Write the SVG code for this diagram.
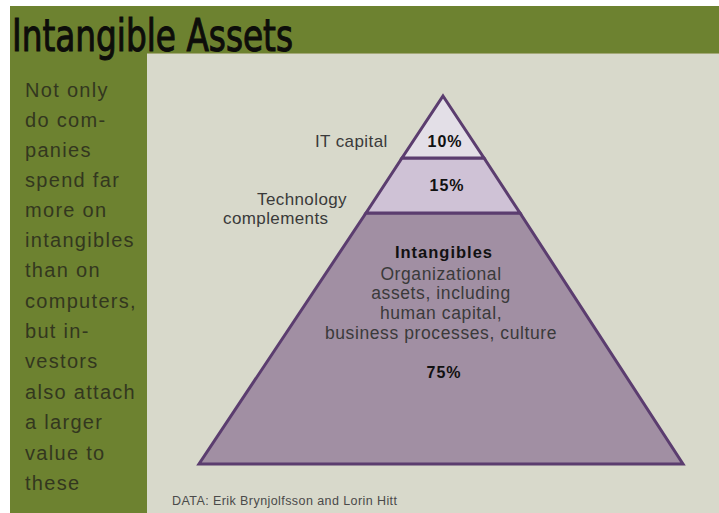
<svg xmlns="http://www.w3.org/2000/svg" width="719" height="513" viewBox="0 0 719 513">
  <style>
    .side { font-family: "Liberation Sans", Arial, sans-serif; font-size: 20px; fill: #33371f; letter-spacing: 1.3px; }
    .lab { font-family: "Liberation Sans", Arial, sans-serif; font-size: 17px; fill: #3a3a3a; letter-spacing: 0.4px; }
    .pct { font-family: "Liberation Sans", Arial, sans-serif; font-size: 16px; font-weight: bold; fill: #111; letter-spacing: 1px; text-anchor: middle; }
    .body { font-family: "Liberation Sans", Arial, sans-serif; font-size: 17.5px; fill: #3a3a3a; letter-spacing: 0.6px; text-anchor: middle; }
    .tier { stroke: #5b3d6f; stroke-width: 3; stroke-linejoin: miter; }
  </style>
  <rect x="0" y="0" width="719" height="513" fill="#ffffff"/>
  <rect x="10" y="6" width="709" height="507" fill="#6d8230"/>
  <rect x="147" y="53" width="572" height="460" fill="#a3a877"/>
  <rect x="147" y="54" width="572" height="459" fill="#d8d9cb"/>

  <g id="title">
    <text x="12" y="51" font-family="'DejaVu Sans Condensed', 'DejaVu Sans', sans-serif" font-size="44" fill="#0d0d0a" stroke="#0d0d0a" stroke-width="1" textLength="281" lengthAdjust="spacingAndGlyphs">Intangible Assets</text>
  </g>

  <g id="sidebar">
    <text class="side" x="25" y="97">Not only</text>
    <text class="side" x="25" y="127">do com-</text>
    <text class="side" x="25" y="157">panies</text>
    <text class="side" x="25" y="187">spend far</text>
    <text class="side" x="25" y="217">more on</text>
    <text class="side" x="25" y="247">intangibles</text>
    <text class="side" x="25" y="277">than on</text>
    <text class="side" x="25" y="308">computers,</text>
    <text class="side" x="25" y="338">but in-</text>
    <text class="side" x="25" y="368">vestors</text>
    <text class="side" x="25" y="399">also attach</text>
    <text class="side" x="25" y="429">a larger</text>
    <text class="side" x="25" y="460">value to</text>
    <text class="side" x="25" y="490">these</text>
  </g>

  <g id="tier-intangibles">
    <polygon class="tier" points="366,213 520,213 683,464 199,464" fill="#a18fa3"/>
    <text class="pct" x="444" y="258" style="font-size:16.5px">Intangibles</text>
    <text class="body" x="441" y="280">Organizational</text>
    <text class="body" x="441" y="299">assets, including</text>
    <text class="body" x="441" y="319">human capital,</text>
    <text class="body" x="441" y="339">business processes, culture</text>
    <text class="pct" x="444" y="378">75%</text>
  </g>

  <g id="tier-tech">
    <polygon class="tier" points="402,158 484,158 520,213 366,213" fill="#cfc2d6"/>
    <text class="pct" x="447" y="191">15%</text>
    <text class="lab" x="257" y="205">Technology</text>
    <text class="lab" x="223" y="224">complements</text>
  </g>

  <g id="tier-it">
    <polygon class="tier" points="443,96 484,158 402,158" fill="#e3dfe7"/>
    <text class="pct" x="445" y="147">10%</text>
    <text class="lab" x="315" y="147">IT capital</text>
  </g>

  <g id="source">
    <text x="172" y="505" font-family="'Liberation Sans', Arial, sans-serif" font-size="12.5" fill="#4a4a4a" textLength="225" lengthAdjust="spacing">DATA: Erik Brynjolfsson and Lorin Hitt</text>
  </g>
</svg>
